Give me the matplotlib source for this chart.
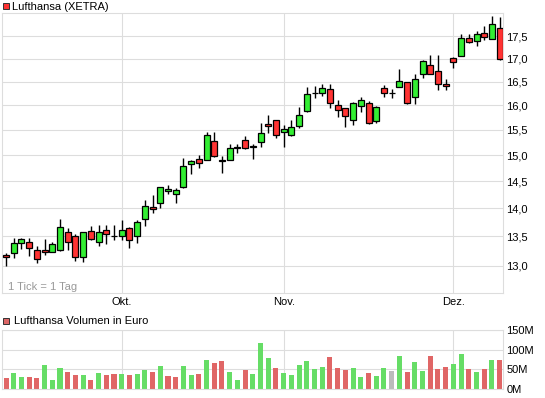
import numpy as np
import pandas as pd
import matplotlib
matplotlib.use("Agg")
import matplotlib.pyplot as plt
from matplotlib.patches import Rectangle
from matplotlib.ticker import FixedLocator, FixedFormatter, NullLocator

plt.rcParams['font.family'] = ['Liberation Sans', 'DejaVu Sans']

# Trading days (XETRA) shown in the chart
dates = pd.bdate_range('2010-09-10', '2010-12-09')

# Daily candles (EUR)
opens = [13.18, 13.21, 13.38, 13.41, 13.26, 13.26, 13.23, 13.26, 13.57, 13.51,
         13.15, 13.60, 13.41, 13.61, 13.50, 13.51, 13.65, 13.50, 13.80, 14.03,
         14.09, 14.31, 14.27, 14.40, 14.82, 14.92, 14.90, 15.27, 14.91, 14.90,
         15.15, 15.29, 15.16, 15.25, 15.62, 15.69, 15.45, 15.39, 15.57, 15.89,
         16.26, 16.25, 16.34, 16.01, 15.95, 15.71, 15.99, 16.06, 15.67, 16.36,
         16.25, 16.39, 16.49, 16.17, 16.67, 16.86, 16.73, 16.45, 17.02, 17.06,
         17.47, 17.40, 17.58, 17.45, 17.68]
highs = [13.22, 13.48, 13.48, 13.47, 13.33, 13.46, 13.40, 13.80, 13.64, 13.55,
         13.58, 13.68, 13.70, 13.71, 13.71, 13.79, 13.67, 13.79, 14.15, 14.24,
         14.40, 14.44, 14.37, 14.94, 14.90, 15.01, 15.46, 15.46, 14.99, 15.22,
         15.22, 15.37, 15.22, 15.64, 15.80, 15.69, 15.60, 15.69, 15.97, 16.39,
         16.41, 16.45, 16.45, 16.12, 15.95, 16.08, 16.17, 16.10, 15.99, 16.43,
         16.34, 16.78, 16.50, 16.67, 16.97, 17.09, 17.09, 16.55, 17.04, 17.56,
         17.56, 17.63, 17.73, 17.96, 17.94]
lows = [12.99, 13.13, 13.28, 13.16, 13.04, 13.18, 13.23, 13.25, 13.26, 13.08,
        13.06, 13.43, 13.33, 13.37, 13.43, 13.44, 13.30, 13.38, 13.69, 13.92,
        14.01, 14.27, 14.10, 14.38, 14.63, 14.75, 14.90, 14.96, 14.66, 14.90,
        15.05, 15.12, 14.93, 15.16, 15.43, 15.33, 15.16, 15.37, 15.53, 15.87,
        16.15, 16.19, 15.95, 15.77, 15.55, 15.60, 15.87, 15.62, 15.64, 16.17,
        16.15, 16.39, 16.02, 16.02, 16.57, 16.67, 16.33, 16.33, 16.80, 17.06,
        17.36, 17.29, 17.42, 17.45, 16.97]
closes = [13.15, 13.38, 13.45, 13.30, 13.11, 13.23, 13.36, 13.66, 13.41, 13.15,
          13.57, 13.45, 13.58, 13.55, 13.50, 13.62, 13.43, 13.76, 14.05, 13.98,
          14.40, 14.35, 14.34, 14.80, 14.88, 14.84, 15.40, 14.99, 14.88, 15.14,
          15.16, 15.14, 15.17, 15.43, 15.57, 15.39, 15.51, 15.55, 15.81, 16.24,
          16.27, 16.36, 16.04, 15.91, 15.79, 16.04, 16.12, 15.64, 15.97, 16.25,
          16.25, 16.52, 16.04, 16.56, 16.94, 16.67, 16.45, 16.40, 16.93, 17.47,
          17.38, 17.56, 17.49, 17.79, 16.99]
# Turnover in million EUR
volumes = [28.6, 41.3, 31.2, 31.2, 28.6, 61.5, 23.6, 53.9, 43.8, 36.2,
           36.2, 23.6, 41.3, 36.2, 38.8, 38.8, 36.2, 38.8, 48.9, 43.8,
           59.0, 33.7, 31.2, 59.0, 36.2, 38.8, 74.1, 66.6, 71.6, 43.8,
           23.6, 48.9, 38.8, 117.1, 79.2, 53.9, 41.3, 36.2, 61.5, 71.6,
           51.4, 56.4, 81.7, 53.9, 48.9, 53.9, 31.2, 41.3, 33.7, 53.9,
           46.3, 84.2, 43.8, 69.1, 46.3, 84.2, 51.4, 56.4, 64.0, 89.3,
           51.4, 43.8, 51.4, 74.1, 74.1]

month_names = {10: 'Okt.', 11: 'Nov.', 12: 'Dez.'}
price_ticks = [13.0, 13.5, 14.0, 14.5, 15.0, 15.5, 16.0, 16.5, 17.0, 17.5]
volume_ticks = [0, 50, 100, 150]

GRID = '#dddddd'
UP, DOWN = '#33ee33', '#ff3333'
VUP, VDOWN, VFLAT = '#66dd66', '#e06666', '#bbbbbb'

W, H = 545, 398
fig = plt.figure(figsize=(W / 100, H / 100), dpi=100)
ax = fig.add_axes([2 / W, 1 - 293.3 / H, 501 / W, 280 / H])
axv = fig.add_axes([2 / W, 1 - 389 / H, 501 / W, 59 / H])

x = np.arange(len(dates))
o, h, l, c = map(np.array, (opens, highs, lows, closes))

# candles
ax.vlines(x, l, h, color='black', lw=1.0, zorder=2)
body_col = np.where(c > o, UP, np.where(c < o, DOWN, 'black'))
ax.bar(x, np.abs(c - o), bottom=np.minimum(o, c), width=0.78,
       color=body_col, edgecolor='black', linewidth=0.9, zorder=3)

# volume bars, coloured by change vs. previous close
prev = np.concatenate([[o[0]], c[:-1]])
vcol = np.where(c > prev, VUP, np.where(c < prev, VDOWN, VFLAT))
axv.bar(x, volumes, width=0.65, color=vcol, zorder=2)

month_idx = [i for i in range(1, len(dates)) if dates[i].month != dates[i - 1].month]
month_lbl = [month_names[dates[i].month] for i in month_idx]

for a in (ax, axv):
    a.set_xlim(-0.52, 64.43)
    a.set_xticks(month_idx)
    a.grid(True, color=GRID, lw=0.8, zorder=0)
    a.set_axisbelow(True)
    for s in a.spines.values():
        s.set_color(GRID)
        s.set_linewidth(0.8)
    a.yaxis.tick_right()
    a.tick_params(length=0, labelsize=8, pad=2.5)

ax.set_xticklabels(month_lbl)
axv.set_xticklabels([])

ax.set_yscale('log')
ax.set_ylim(12.54, 18.03)
ax.yaxis.set_major_locator(FixedLocator(price_ticks))
ax.yaxis.set_major_formatter(FixedFormatter([f'{v:.1f}'.replace('.', ',') for v in price_ticks]))
ax.yaxis.set_minor_locator(NullLocator())

axv.set_ylim(0, 150)
axv.set_yticks(volume_ticks)
axv.set_yticklabels([f'{v}M' for v in volume_ticks])

# legends / captions
fig.add_artist(Rectangle((3.3 / W, 1 - 8.8 / H), 6 / W, 6 / H, transform=fig.transFigure,
                         facecolor='#ff3333', edgecolor='#333333', lw=0.7))
fig.text(12 / W, 1 - 6.5 / H, 'Lufthansa (XETRA)', fontsize=8, va='center')
fig.add_artist(Rectangle((3.3 / W, 1 - 324.3 / H), 6 / W, 6 / H, transform=fig.transFigure,
                         facecolor='#dd6666', edgecolor='#333333', lw=0.7))
fig.text(14 / W, 1 - 321.3 / H, 'Lufthansa Volumen in Euro', fontsize=8, va='center')
fig.text(8.3 / W, 1 - 289.5 / H, '1 Tick = 1 Tag', fontsize=8, color='#999999', va='baseline')

fig.savefig('out.png', dpi=100)
